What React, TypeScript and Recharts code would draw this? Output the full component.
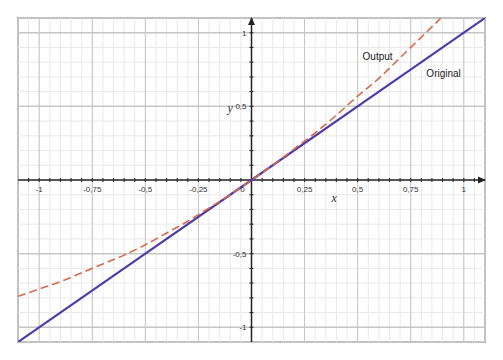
import { LineChart, Line, XAxis, YAxis, ReferenceLine, ReferenceDot, ReferenceArea } from 'recharts'

// curve values
const outputX = [-1.1, -1.0, -0.9, -0.8, -0.7, -0.6, -0.5, -0.4, -0.3, -0.2, -0.1, 0, 0.1, 0.2, 0.3, 0.4, 0.5, 0.6, 0.7, 0.8, 0.9]
const outputY = [-0.79, -0.74, -0.69, -0.63, -0.57, -0.51, -0.44, -0.36, -0.28, -0.19, -0.1, 0, 0.1, 0.21, 0.32, 0.44, 0.57, 0.69, 0.83, 0.97, 1.11]
const originalX = [-1.1, -0.5, 0, 0.5, 1.1]
const originalY = [-1.1, -0.5, 0, 0.5, 1.1]

const xTickValues = [-1, -0.75, -0.5, -0.25, 0, 0.25, 0.5, 0.75, 1]
const xTickLabels = ['-1', '-0,75', '-0,5', '-0,25', '0', '0,25', '0,5', '0,75', '1']
const yTickValues = [-1, -0.5, 0.5, 1]
const yTickLabels = ['-1', '-0,5', '0,5', '1']

const xMinor = Array.from({ length: 45 }, (_, i) => Math.round((-1.1 + i * 0.05) * 100) / 100)
const yMinor = Array.from({ length: 23 }, (_, i) => Math.round((-1.1 + i * 0.1) * 100) / 100)
const xAxisMarks = xMinor.filter((v) => v !== 0 && v > -1.1 && v < 1.1)
const yAxisMarks = yMinor.filter((v) => v !== 0 && v > -1.1 && v < 1.1)

const outputData = outputX.map((x, i) => ({ x, y: outputY[i] }))
const originalData = originalX.map((x, i) => ({ x, y: originalY[i] }))

const DOMAIN: [number, number] = [-1.1, 1.1]
const tickFont = { fontFamily: 'Liberation Sans, Arial, sans-serif', fontSize: 8, fill: '#333' }
const noteFont = { fontFamily: 'Liberation Sans, Arial, sans-serif', fontSize: 10, fill: '#222' }
const varFont = { fontFamily: 'Liberation Serif, serif', fontStyle: 'italic', fontSize: 12, fill: '#333' }

export default function App() {
  return (
    <div style={{ position: 'absolute', left: 0, top: 0, background: '#fff' }}>
      <LineChart width={503} height={360} margin={{ top: 18, right: 18, bottom: 18, left: 18 }}>
        <XAxis type="number" dataKey="x" domain={DOMAIN} allowDataOverflow hide />
        <YAxis type="number" dataKey="y" domain={DOMAIN} allowDataOverflow hide />

        {xMinor.map((v) => (
          <ReferenceLine key={'xm' + v} x={v} stroke="#e9e9e9" strokeWidth={1} />
        ))}
        {yMinor.map((v) => (
          <ReferenceLine key={'ym' + v} y={v} stroke="#e9e9e9" strokeWidth={1} />
        ))}
        {xTickValues.map((v) => (
          <ReferenceLine key={'xM' + v} x={v} stroke="#c6c6c6" strokeWidth={1} />
        ))}
        {yTickValues.map((v) => (
          <ReferenceLine key={'yM' + v} y={v} stroke="#c6c6c6" strokeWidth={1.5} />
        ))}
        <ReferenceArea x1={-1.1} x2={1.1} y1={-1.1} y2={1.1} fill="none" stroke="#9a9a9a" strokeWidth={2} />

        <ReferenceLine x={0} stroke="#222" strokeWidth={1.5} />
        <ReferenceLine y={0} stroke="#222" strokeWidth={1.5} />

        {xAxisMarks.map((v) => (
          <ReferenceDot key={'xt' + v} x={v} y={0} r={0}
            shape={(p: any) => <line x1={p.cx} x2={p.cx} y1={p.cy - 2} y2={p.cy + 2} stroke="#333" strokeWidth={1.2} />} />
        ))}
        {yAxisMarks.map((v) => (
          <ReferenceDot key={'yt' + v} x={0} y={v} r={0}
            shape={(p: any) => <line x1={p.cx - 2} x2={p.cx + 2} y1={p.cy} y2={p.cy} stroke="#333" strokeWidth={1.2} />} />
        ))}
        <ReferenceDot x={0} y={1.1} r={0}
          shape={(p: any) => <path d={`M${p.cx},${p.cy - 1} L${p.cx - 3.5},${p.cy + 7} L${p.cx + 3.5},${p.cy + 7} Z`} fill="#222" />} />
        <ReferenceDot x={1.1} y={0} r={0}
          shape={(p: any) => <path d={`M${p.cx + 1},${p.cy} L${p.cx - 7},${p.cy - 3.5} L${p.cx - 7},${p.cy + 3.5} Z`} fill="#222" />} />

        <Line data={originalData} dataKey="y" type="linear" stroke="#4b3ca8" strokeWidth={2.2} dot={false} isAnimationActive={false} />
        <Line data={outputData} dataKey="y" type="monotone" stroke="#d9694a" strokeWidth={1.6} strokeDasharray="8 4" dot={false} isAnimationActive={false} />

        {xTickValues.map((v, i) => (
          <ReferenceDot key={'xl' + v} x={v} y={0} r={0}
            shape={(p: any) => (
              <text x={v === 0 ? p.cx - 9 : p.cx} y={p.cy + 12} textAnchor="middle" {...tickFont}>{xTickLabels[i]}</text>
            )} />
        ))}
        {yTickValues.map((v, i) => (
          <ReferenceDot key={'yl' + v} x={0} y={v} r={0}
            shape={(p: any) => (
              <text x={p.cx - 5} y={p.cy + 3} textAnchor="end" {...tickFont}>{yTickLabels[i]}</text>
            )} />
        ))}

        <ReferenceDot x={0.39} y={-0.12} r={0}
          shape={(p: any) => <text x={p.cx} y={p.cy + 4} textAnchor="middle" {...varFont}>x</text>} />
        <ReferenceDot x={-0.1} y={0.49} r={0}
          shape={(p: any) => <text x={p.cx} y={p.cy + 4} textAnchor="middle" {...varFont}>y</text>} />
        <ReferenceDot x={0.594} y={0.84} r={0}
          shape={(p: any) => <text x={p.cx} y={p.cy + 3.5} textAnchor="middle" {...noteFont}>Output</text>} />
        <ReferenceDot x={0.905} y={0.726} r={0}
          shape={(p: any) => <text x={p.cx} y={p.cy + 3.5} textAnchor="middle" {...noteFont}>Original</text>} />
      </LineChart>
    </div>
  )
}
